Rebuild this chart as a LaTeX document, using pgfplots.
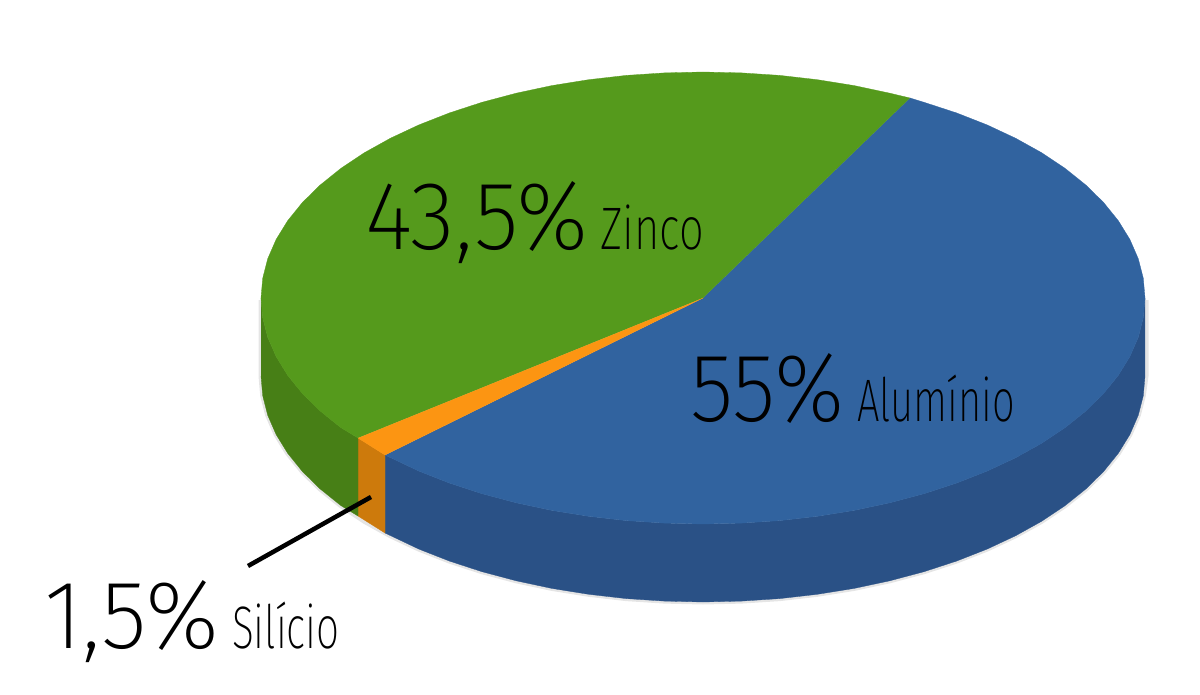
\documentclass[border=0pt]{standalone}
\usepackage{fontspec}
\setmainfont[UprightFont=* ExtraLight]{Fira Sans}
\usepackage{pgfplots}
\pgfplotsset{compat=1.18}

\definecolor{bluetop}{HTML}{31639F}
\definecolor{blueside}{HTML}{2A5186}
\definecolor{greentop}{HTML}{559A1C}
\definecolor{greenside}{HTML}{477F16}
\definecolor{orangetop}{HTML}{FC9512}
\definecolor{orangeside}{HTML}{CD7A0C}

\newcommand{\bigpct}[1]{\fontsize{97}{97}\selectfont #1}
\newcommand{\metal}[1]{\fontsize{60}{60}\selectfont #1}

\begin{document}
\begin{tikzpicture}
\begin{axis}[
  scale only axis,
  width=1200pt,
  height=695pt,
  xmin=0, xmax=1200,
  ymin=0, ymax=695,
  y dir=reverse,
  hide axis,
  clip=false,
]
% keep the whole canvas in the bounding box
\path (rel axis cs:0,0) rectangle (rel axis cs:1,1);
% soft shadow under the rim
\addplot[draw=black, draw opacity=0.10, line width=5pt, forget plot] coordinates {
  (1146,300) (1146,376) (1143.3,395.7) (1138.3,415.2) (1129.9,434.5) (1118.3,453.3) (1103.6,471.5)
  (1085.8,489) (1065.1,505.6) (1041.6,521.3) (1015.5,535.8) (987.1,549.1) (956.5,561.1) (924,571.7)
  (889.8,580.8) (854.2,588.4) (817.4,594.3) (779.8,598.6) (741.5,601.1) (703,602) (664.5,601.1)
  (626.2,598.6) (588.6,594.3) (551.8,588.4) (516.2,580.8) (482,571.7) (449.5,561.1) (418.9,549.1)
  (390.5,535.8) (364.4,521.3) (340.9,505.6) (320.2,489) (302.4,471.5) (287.7,453.3) (276.1,434.5)
  (267.7,415.2) (262.7,395.7) (261,376) (261,300)
};
% side walls
\addplot[fill=blueside, draw=blueside, line width=0.3pt] coordinates {
  (1145,298) (1143.3,317.7) (1138.3,337.2) (1129.9,356.5) (1118.3,375.3) (1103.6,393.5) (1085.8,411)
  (1065.1,427.6) (1041.6,443.3) (1015.5,457.8) (987.1,471.1) (956.5,483.1) (924,493.7) (889.8,502.8)
  (854.2,510.4) (817.4,516.3) (779.8,520.6) (741.5,523.1) (703,524) (664.5,523.1) (626.2,520.6)
  (588.6,516.3) (551.8,510.4) (516.2,502.8) (482,493.7) (449.5,483.1) (418.9,471.1) (385,455)
  (385,533) (418.9,549.1) (449.5,561.1) (482,571.7) (516.2,580.8) (551.8,588.4) (588.6,594.3)
  (626.2,598.6) (664.5,601.1) (703,602) (741.5,601.1) (779.8,598.6) (817.4,594.3) (854.2,588.4)
  (889.8,580.8) (924,571.7) (956.5,561.1) (987.1,549.1) (1015.5,535.8) (1041.6,521.3) (1065.1,505.6)
  (1085.8,489) (1103.6,471.5) (1118.3,453.3) (1129.9,434.5) (1138.3,415.2) (1143.3,395.7) (1145,376)
};
\addplot[fill=orangeside, draw=orangeside, line width=0.3pt] coordinates {
  (358,438) (385,455) (385,533) (358,516)
};
\addplot[fill=greenside, draw=greenside, line width=0.3pt] coordinates {
  (261,298) (262.7,317.7) (267.7,337.2) (276.1,356.5) (287.7,375.3) (302.4,393.5) (320.2,411)
  (340.9,427.6) (358,438) (358,516) (340.9,505.6) (320.2,489) (302.4,471.5) (287.7,453.3)
  (276.1,434.5) (267.7,415.2) (262.7,395.7) (261,376)
};
% top face
\addplot[fill=bluetop, draw=bluetop, line width=0.3pt] coordinates {
  (703,298) (910,98) (924,102.3) (956.5,112.9) (987.1,124.9) (1015.5,138.2) (1041.6,152.7)
  (1065.1,168.4) (1085.8,185) (1103.6,202.5) (1118.3,220.7) (1129.9,239.5) (1138.3,258.8)
  (1143.3,278.3) (1145,298) (1143.3,317.7) (1138.3,337.2) (1129.9,356.5) (1118.3,375.3)
  (1103.6,393.5) (1085.8,411) (1065.1,427.6) (1041.6,443.3) (1015.5,457.8) (987.1,471.1)
  (956.5,483.1) (924,493.7) (889.8,502.8) (854.2,510.4) (817.4,516.3) (779.8,520.6) (741.5,523.1)
  (703,524) (664.5,523.1) (626.2,520.6) (588.6,516.3) (551.8,510.4) (516.2,502.8) (482,493.7)
  (449.5,483.1) (418.9,471.1) (385,455)
};
\addplot[fill=greentop, draw=greentop, line width=0.3pt] coordinates {
  (703,298) (358,438) (340.9,427.6) (320.2,411) (302.4,393.5) (287.7,375.3) (276.1,356.5)
  (267.7,337.2) (262.7,317.7) (261,298) (262.7,278.3) (267.7,258.8) (276.1,239.5) (287.7,220.7)
  (302.4,202.5) (320.2,185) (340.9,168.4) (364.4,152.7) (390.5,138.2) (418.9,124.9) (449.5,112.9)
  (482,102.3) (516.2,93.2) (551.8,85.6) (588.6,79.7) (626.2,75.4) (664.5,72.9) (703,72) (741.5,72.9)
  (779.8,75.4) (817.4,79.7) (854.2,85.6) (889.8,93.2) (910,98)
};
\addplot[fill=orangetop, draw=orangetop, line width=0.3pt] coordinates {
  (703,298) (385,455) (358,438)
};
% leader line
\addplot[black, line width=4.5pt] coordinates {(248,566) (371,497)};

\node[anchor=base west, inner sep=0pt, xscale=0.95] at (axis cs:365,250) {\bigpct{43,5\%}};
\node[anchor=base west, inner sep=0pt, xscale=0.725] at (axis cs:600,250) {\metal{Zinco}};
\node[anchor=base west, inner sep=0pt, xscale=0.925] at (axis cs:690,421) {\bigpct{55\%}};
\node[anchor=base west, inner sep=0pt, xscale=0.665] at (axis cs:857,421) {\metal{Alumínio}};
\node[anchor=base west, inner sep=0pt, xscale=0.975] at (axis cs:44,648) {\bigpct{1,5\%}};
\node[anchor=base west, inner sep=0pt, xscale=0.675] at (axis cs:232,648) {\metal{Silício}};
\end{axis}
\end{tikzpicture}
\end{document}
